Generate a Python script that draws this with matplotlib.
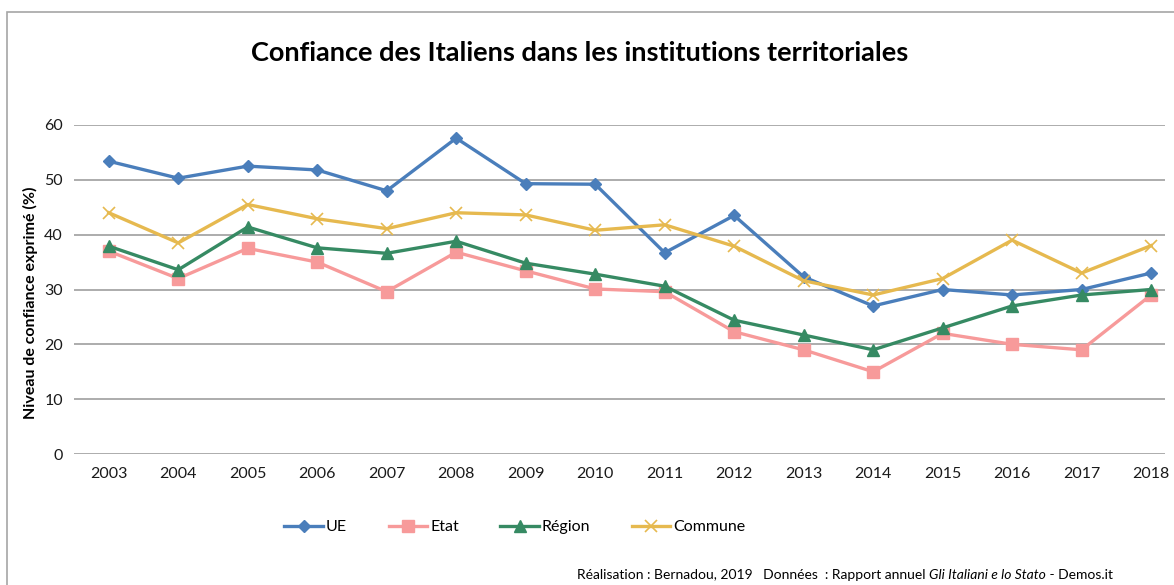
import matplotlib.pyplot as plt
import matplotlib.patches as mpatches

plt.rcParams['font.family'] = ['Lato', 'DejaVu Sans']

years = list(range(2003, 2019))
ue = [53.4, 50.3, 52.5, 51.8, 48.0, 57.6, 49.3, 49.2, 36.7, 43.5, 32.3, 27.0, 30.0, 29.0, 30.0, 33.0]
etat = [37.0, 32.0, 37.5, 35.0, 29.6, 36.8, 33.4, 30.1, 29.6, 22.3, 19.0, 15.0, 22.0, 20.0, 19.0, 29.0]
region = [37.9, 33.6, 41.4, 37.6, 36.6, 38.8, 34.8, 32.8, 30.6, 24.4, 21.7, 19.0, 23.0, 27.0, 29.0, 30.0]
commune = [44.0, 38.5, 45.5, 42.9, 41.1, 44.0, 43.6, 40.8, 41.8, 37.9, 31.6, 29.0, 32.0, 39.0, 33.0, 38.0]
labels = ['UE', 'Etat', 'Région', 'Commune']

W, H = 1174, 585
fig = plt.figure(figsize=(W / 100, H / 100), dpi=100)

# chart frame (cropped on right/bottom)
fig.patches.append(mpatches.Rectangle((7 / W, -0.1), 1.2, 1 - 12 / H + 0.1,
                                      transform=fig.transFigure, fill=False,
                                      edgecolor='#a6a6a6', linewidth=1.2))

ax = fig.add_axes((74 / W, 1 - 454 / H, (1165 - 74) / W, (454 - 125) / H))

styles = [
    dict(color='#4a7ebb', marker='D', markersize=6.5),
    dict(color='#f79a9a', marker='s', markersize=8),
    dict(color='#368a63', marker='^', markersize=8.5),
    dict(color='#e6b94f', marker='x', markersize=8, markeredgewidth=1.2),
]
handles = []
for vals, st in zip([ue, etat, region, commune], styles):
    h, = ax.plot(years, vals, linewidth=2.4, clip_on=False, **st)
    handles.append(h)

ax.set_xlim(2002.5, 2018.2)
ax.set_ylim(0, 60)
ax.set_yticks(range(0, 61, 10))
ax.set_xticks(years)
ax.grid(axis='y', color='#a6a6a6', linewidth=1.3)
ax.set_axisbelow(True)
for s in ax.spines.values():
    s.set_visible(False)
ax.tick_params(length=0, labelsize=11.5, colors='#1a1a1a')
ax.tick_params(axis='x', pad=9)
ax.tick_params(axis='y', pad=8)

ax.set_ylabel('Niveau de confiance exprimé (%)', fontsize=11.5, fontweight='bold')
ax.yaxis.set_label_coords(-36 / (1165 - 74), 0.46)

fig.text(580 / W, 1 - 53 / H, 'Confiance des Italiens dans les institutions territoriales',
         ha='center', va='center', fontsize=19.5, fontweight='bold')

fig.legend(handles, labels, loc='center left', bbox_to_anchor=(278 / W, 1 - 527 / H),
           ncol=4, frameon=False, fontsize=11.5, handlelength=2.4,
           handletextpad=0.2, columnspacing=2.6, borderaxespad=0)

t1 = fig.text(577 / W, 1 - 579 / H, 'Réalisation : Bernadou, 2019   Données  : Rapport annuel ',
              fontsize=10, va='baseline')
t2 = fig.text(0, 0, 'Gli Italiani e lo Stato', fontsize=10, style='italic', va='baseline')
t3 = fig.text(0, 0, ' - Demos.it', fontsize=10, va='baseline')
fig.canvas.draw()
r = fig.canvas.get_renderer()
inv = fig.transFigure.inverted()
bb = t1.get_window_extent(r)
t2.set_position((inv.transform((bb.x1, 0))[0], t1.get_position()[1]))
bb = t2.get_window_extent(r)
t3.set_position((inv.transform((bb.x1, 0))[0], t1.get_position()[1]))

fig.savefig('out.png', dpi=100)
